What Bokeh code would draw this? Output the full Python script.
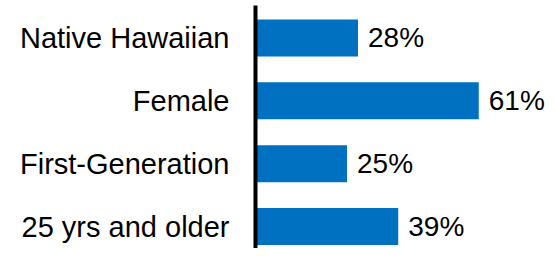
from bokeh.plotting import figure
from bokeh.models import ColumnDataSource, Range1d, FixedTicker
from bokeh.core.properties import value
from bokeh.embed import file_html
from bokeh.resources import INLINE

categories = ["Native Hawaiian", "Female", "First-Generation", "25 yrs and older"]
percents = [28, 61, 25, 39]
labels = [f"{v}%" for v in percents]
positions = list(range(len(categories)))

source = ColumnDataSource(dict(pos=positions, val=percents, lab=labels))

p = figure(
    width=550, height=248,
    y_range=Range1d(3.35, -0.517),
    x_range=Range1d(0, 80.6),
    x_axis_location=None,
    output_backend="svg", toolbar_location=None,
    min_border_left=255, min_border_right=0, min_border_top=5, min_border_bottom=0,
)
p.outline_line_color = None
p.background_fill_color = "white"
p.border_fill_color = "white"
p.xgrid.visible = False
p.ygrid.visible = False

p.hbar(y="pos", right="val", left=0, height=0.59, source=source,
       fill_color="#0070C0", line_color=None)

p.text(x="val", y="pos", text="lab", source=source, x_offset=10,
       text_baseline="middle", text_align="left",
       text_font=value("Liberation Sans"), text_font_size="28px", text_color="black")

ax = p.yaxis[0]
ax.ticker = FixedTicker(ticks=positions)
ax.major_label_overrides = {i: c for i, c in zip(positions, categories)}
ax.axis_line_width = 4
ax.axis_line_color = "black"
ax.major_tick_line_color = None
ax.minor_tick_line_color = None
ax.major_tick_out = 0
ax.major_tick_in = 0
ax.major_label_standoff = 26
ax.major_label_text_font = "Liberation Sans"
ax.major_label_text_font_size = "29px"
ax.major_label_text_color = "black"

open("out.html", "w").write(file_html(p, INLINE))
